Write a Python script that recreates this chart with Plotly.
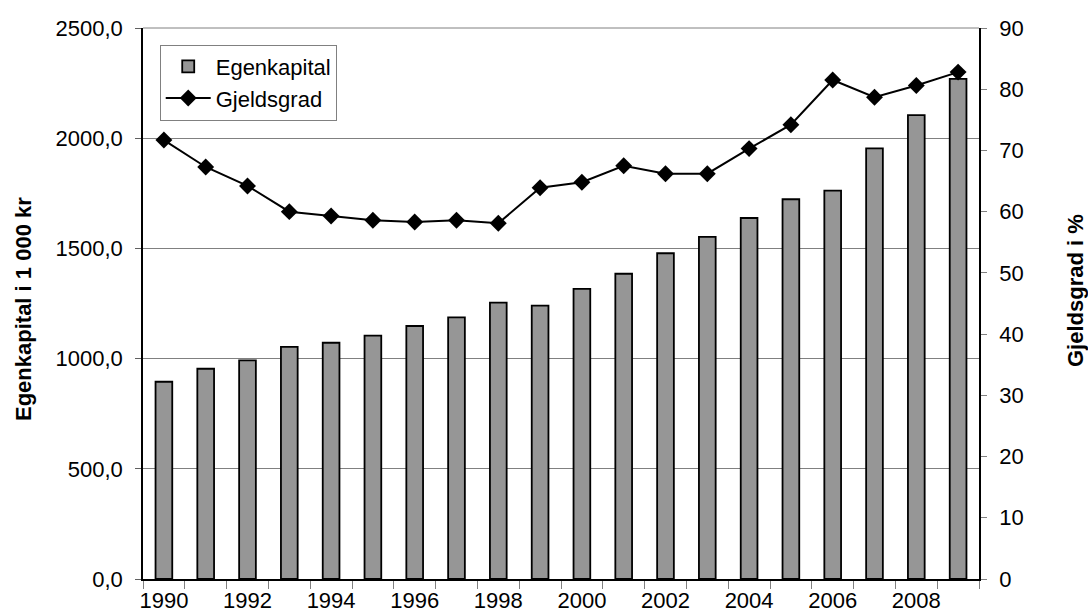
import plotly.graph_objects as go

years = [str(y) for y in range(1990, 2010)]
egenkapital = [895, 954, 992, 1053, 1072, 1104, 1148, 1187, 1254, 1240,
               1316, 1385, 1478, 1552, 1638, 1723, 1762, 1954, 2105, 2269]
gjeldsgrad = [71.7, 67.3, 64.2, 60.0, 59.3, 58.6, 58.3, 58.6, 58.1, 63.9,
              64.8, 67.5, 66.2, 66.2, 70.3, 74.2, 81.5, 78.7, 80.6, 82.8]
tick_text = [y if int(y) % 2 == 0 else "" for y in years]
left_ticks = [0, 500, 1000, 1500, 2000, 2500]
right_ticks = list(range(0, 91, 10))

FONT = "Liberation Sans, Arial, sans-serif"

fig = go.Figure()
fig.add_trace(go.Bar(
    x=years, y=egenkapital, name="Egenkapital", width=0.4,
    marker=dict(color="#969696", line=dict(color="black", width=1.8)),
))
fig.add_trace(go.Scatter(
    x=years, y=gjeldsgrad, name="Gjeldsgrad", yaxis="y2", mode="lines+markers",
    line=dict(color="black", width=2),
    marker=dict(symbol="diamond", size=13, color="black"),
))

fig.update_layout(
    width=1088, height=616,
    margin=dict(l=143, r=109, t=28, b=37, autoexpand=False),
    paper_bgcolor="white", plot_bgcolor="white",
    font=dict(family=FONT, size=22, color="black"),
    separators=", ",
    showlegend=True,
    legend=dict(
        x=0.02, y=0.97, xanchor="left", yanchor="top",
        bordercolor="#808080", borderwidth=1, bgcolor="white",
        font=dict(size=22), tracegroupgap=0, itemwidth=45,
    ),
    xaxis=dict(
        type="category", tickmode="array", tickvals=years, ticktext=tick_text,
        tickson="boundaries", ticks="outside", ticklen=8, tickcolor="#808080",
        tickangle=0, ticklabelstandoff=1, automargin=False,
        showline=True, linecolor="black", linewidth=1.5, showgrid=False,
        tickfont=dict(size=22), range=[-0.5, 19.5],
    ),
    yaxis=dict(
        range=[0, 2500], tickvals=left_ticks, tickformat=".1f",
        ticks="outside", ticklen=6, tickcolor="#606060", automargin=False,
        showline=True, linecolor="black", linewidth=1.5,
        showgrid=True, gridcolor="#808080", gridwidth=1,
        zeroline=False, tickfont=dict(size=22), ticklabelstandoff=8,
    ),
    yaxis2=dict(
        range=[0, 90], tickvals=right_ticks, overlaying="y", side="right",
        ticks="outside", ticklen=6, tickcolor="#808080", automargin=False,
        showline=True, linecolor="black", linewidth=1.5, showgrid=False,
        zeroline=False, tickfont=dict(size=22), ticklabelstandoff=8,
    ),
    shapes=[dict(type="line", xref="paper", yref="paper", x0=0, x1=1, y0=1, y1=1,
                 line=dict(color="#808080", width=1))],
    annotations=[
        dict(text="<b>Egenkapital i 1 000 kr</b>", xref="paper", yref="paper",
             x=(23 - 143)/836, y=(579 - 309)/551, textangle=-90, showarrow=False,
             font=dict(size=22), xanchor="center", yanchor="middle"),
        dict(text="<b>Gjeldsgrad i %</b>", xref="paper", yref="paper",
             x=(1075 - 143)/836, y=(579 - 291)/551, textangle=-90, showarrow=False,
             font=dict(size=22), xanchor="center", yanchor="middle"),
    ],
)

fig.write_html("out.html", config={"displayModeBar": False},
               post_script="document.body.style.margin='0';document.body.style.overflow='hidden';")
